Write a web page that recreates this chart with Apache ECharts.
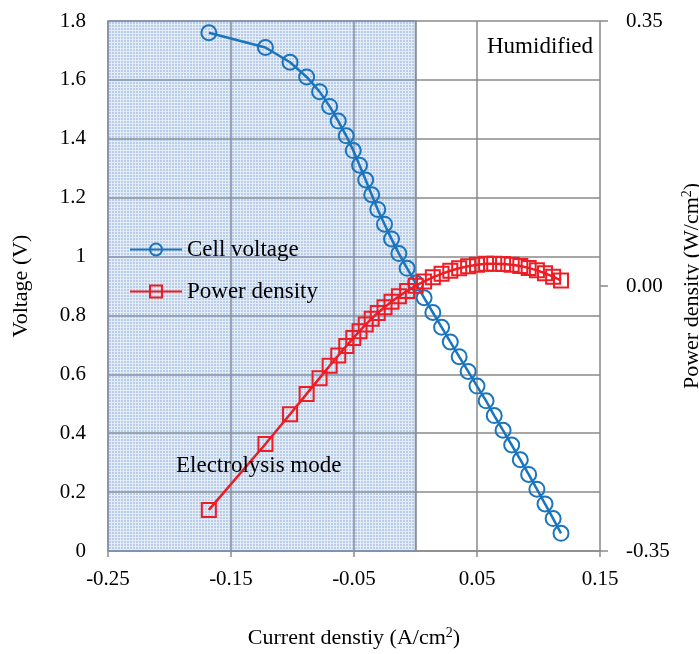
<!DOCTYPE html>
<html>
<head>
<meta charset="utf-8">
<script src="https://cdn.jsdelivr.net/npm/echarts@6/dist/echarts.min.js"></script>
<style>html,body{margin:0;padding:0;background:#fff}#c{width:699px;height:654px}</style>
</head>
<body>
<div id="c"></div>
<script>
// Current density (A/cm2), shared by both series
const current = [-0.168,-0.122,-0.102,-0.0885,-0.078,-0.0698,-0.0628,-0.0563,-0.0506,-0.0455,
  -0.0405,-0.0356,-0.0307,-0.0252,-0.0195,-0.0135,-0.0068,0.0002,0.0070,0.0141,
  0.0212,0.0283,0.0355,0.0428,0.0500,0.0574,0.0640,0.0712,0.0782,0.0852,
  0.0920,0.0987,0.1053,0.1119,0.1183];
// Cell voltage (V)
const voltage = [1.76,1.71,1.66,1.61,1.56,1.51,1.46,1.41,1.36,1.31,
  1.26,1.21,1.16,1.11,1.06,1.01,0.96,0.91,0.86,0.81,
  0.76,0.71,0.66,0.61,0.56,0.51,0.46,0.41,0.36,0.31,
  0.26,0.21,0.16,0.11,0.06];
// Power density (W/cm2)
const power = [-0.2957,-0.2086,-0.1693,-0.1425,-0.1217,-0.1054,-0.0917,-0.0794,-0.0688,-0.0596,
  -0.0510,-0.0431,-0.0356,-0.0280,-0.0207,-0.0136,-0.0065,0.0002,0.0060,0.0114,
  0.0161,0.0201,0.0234,0.0261,0.0280,0.0293,0.0294,0.0292,0.0282,0.0264,
  0.0239,0.0207,0.0168,0.0123,0.0071];
const seriesNames = ['Cell voltage', 'Power density'];
const xTicks = {min: -0.25, max: 0.15, interval: 0.1};
const yLeftTicks = {min: 0, max: 1.8, interval: 0.2};
const yRightTicks = {min: -0.35, max: 0.35, interval: 0.35};
const electrolysisRange = [-0.25, 0];

const FONT = 'Liberation Serif, Times New Roman, serif';
const BLUE = '#1b75bc', RED = '#ee1c25', GRID = '#8a8a8a';

// dotted pattern for shaded region
const pc = document.createElement('canvas');
pc.width = 3; pc.height = 3;
const g = pc.getContext('2d');
g.fillStyle = 'rgba(120,158,212,0.52)'; g.fillRect(0,0,3,3);
g.clearRect(0,0,3,1); g.clearRect(0,0,1,3);
g.fillStyle = 'rgba(120,158,212,0.2)'; g.fillRect(0,0,3,1); g.fillRect(0,1,1,2);

const chart = echarts.init(document.getElementById('c'), null, {renderer: 'canvas'});
const txt = {fontFamily: FONT, color: '#000'};
chart.setOption({
  animation: false,
  backgroundColor: '#fff',
  grid: {left: 108, right: 99, top: 21, bottom: 103, containLabel: false, outerBoundsMode: 'none'},
  legend: {
    orient: 'vertical', left: 124, top: 233, itemWidth: 52, itemHeight: 15, itemGap: 19,
    textStyle: Object.assign({fontSize: 23}, txt),
    data: seriesNames
  },
  xAxis: {
    type: 'value', min: xTicks.min, max: xTicks.max, interval: xTicks.interval,
    axisLine: {lineStyle: {color: GRID, width: 1.5}},
    axisTick: {show: true, length: 6, lineStyle: {color: GRID, width: 1.5}},
    splitLine: {show: true, lineStyle: {color: GRID, width: 1.5}},
    axisLabel: Object.assign({fontSize: 21, margin: 18, formatter: v => v.toFixed(2)}, txt),
    name: 'Current denstiy (A/cm{sup|2})', nameLocation: 'middle', nameGap: 75,
    nameTextStyle: Object.assign({fontSize: 22, rich: {sup: {fontSize: 14, verticalAlign: 'top', padding: [0,0,10,0], fontFamily: FONT}}}, txt)
  },
  yAxis: [{
    type: 'value', min: yLeftTicks.min, max: yLeftTicks.max, interval: yLeftTicks.interval,
    axisLine: {show: true, lineStyle: {color: GRID, width: 1.5}},
    axisTick: {show: false},
    splitLine: {show: true, lineStyle: {color: GRID, width: 1.5}},
    axisLabel: Object.assign({fontSize: 21, margin: 22}, txt),
    name: 'Voltage (V)', nameLocation: 'middle', nameGap: 76, nameRotate: 90,
    nameTextStyle: Object.assign({fontSize: 22}, txt)
  }, {
    type: 'value', position: 'right', min: yRightTicks.min, max: yRightTicks.max, interval: yRightTicks.interval,
    axisLine: {show: false},
    axisTick: {show: true, length: 8, lineStyle: {color: GRID, width: 1.5}},
    splitLine: {show: false},
    axisLabel: Object.assign({fontSize: 21, margin: 26, formatter: v => v.toFixed(2)}, txt),
    name: 'Power density (W/cm{sup|2})', nameLocation: 'middle', nameGap: 76, nameRotate: 90,
    nameTextStyle: Object.assign({fontSize: 22, rich: {sup: {fontSize: 14, verticalAlign: 'top', padding: [0,0,10,0], fontFamily: FONT}}}, txt)
  }],
  series: [{
    name: seriesNames[0], type: 'line', yAxisIndex: 0,
    data: current.map((c, i) => [c, voltage[i]]),
    symbol: 'circle', symbolSize: 15,
    itemStyle: {color: 'rgba(255,255,255,0)', borderColor: BLUE, borderWidth: 2},
    lineStyle: {color: BLUE, width: 2.5},
    z: 3,
    markArea: {
      silent: true,
      itemStyle: {color: {image: pc, repeat: 'repeat'}, borderColor: '#7f93ad', borderWidth: 1.5},
      data: [[{xAxis: electrolysisRange[0], yAxis: yLeftTicks.min}, {xAxis: electrolysisRange[1], yAxis: yLeftTicks.max}]]
    }
  }, {
    name: seriesNames[1], type: 'line', yAxisIndex: 1,
    data: current.map((c, i) => [c, power[i]]),
    symbol: 'rect', symbolSize: 14,
    itemStyle: {color: 'rgba(255,255,255,0)', borderColor: RED, borderWidth: 2},
    lineStyle: {color: RED, width: 2.5},
    z: 4
  }],
  graphic: [
    {type: 'text', z: 100, left: 487, top: 35, style: {text: 'Humidified', font: '23px ' + FONT, fill: '#000'}},
    {type: 'text', z: 100, left: 176, top: 454, style: {text: 'Electrolysis mode', font: '23px ' + FONT, fill: '#000'}}
  ]
});
</script>
</body>
</html>
